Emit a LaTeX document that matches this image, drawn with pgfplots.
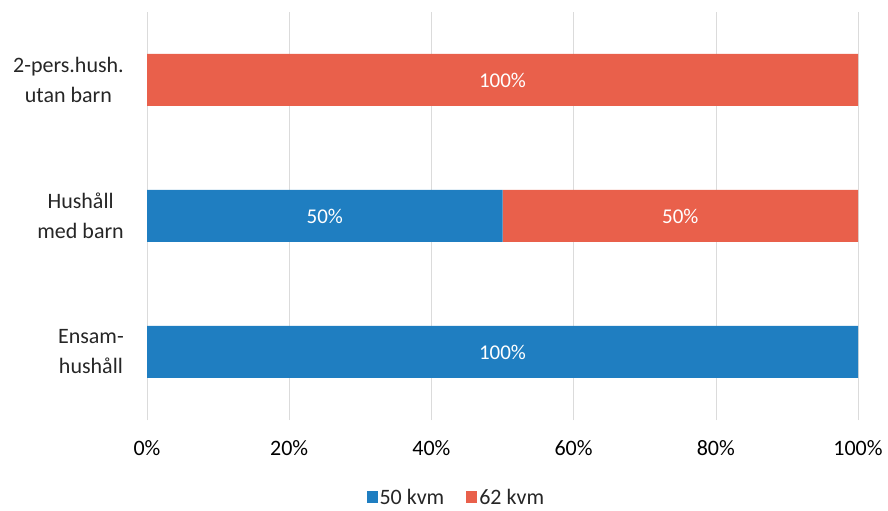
\documentclass[border=0pt]{standalone}
\usepackage{pgfplots}
\pgfplotsset{compat=1.18}
\usepackage{fontspec}
\setmainfont{Carlito}
\definecolor{cblue}{HTML}{1F7EC1}
\definecolor{cred}{HTML}{E9604B}
\definecolor{lbl}{HTML}{262626}
\begin{document}
\begin{tikzpicture}
\useasboundingbox (0,0) rectangle (888bp,511bp);
\begin{axis}[
  at={(147bp,91bp)}, anchor=south west,
  scale only axis, width=711bp, height=408bp,
  xbar stacked, bar width=52bp,
  xmin=0, xmax=100, ymin=-0.5, ymax=2.5,
  axis line style={draw=none},
  major tick length=0pt,
  xtick={0,20,40,60,80,100},
  xticklabels={0\%,20\%,40\%,60\%,80\%,100\%},
  ytick={0,1,2},
  yticklabels={Ensam-\\hushåll, Hushåll\\med barn, 2-pers.hush.\\utan barn},
  yticklabel style={align=center, inner sep=0pt, xshift=-23bp, text=lbl,
    font=\fontsize{22bp}{30bp}\selectfont},
  xticklabel style={inner sep=0pt, yshift=-20bp, text=black,
    font=\fontsize{22bp}{26bp}\selectfont},
  xmajorgrids, grid style={color=black!14, line width=0.6pt},
  legend style={at={(0.435,-0.189)}, anchor=center, draw=none, fill=none,
    legend columns=2, font=\fontsize{22bp}{26bp}\selectfont, text=lbl,
    /tikz/every even column/.append style={column sep=20bp}},
  legend image code/.code={\path[#1,draw=none] (0bp,-6bp) rectangle (11bp,6bp);},
  legend cell align=left,
]
\addplot[fill=cblue, draw=none] coordinates {(100,0) (50,1) (0,2)};
\addplot[fill=cred, draw=none] coordinates {(0,0) (50,1) (100,2)};
\legend{50 kvm, 62 kvm}
\coordinate (l0) at (axis cs:50,0);
\coordinate (l1a) at (axis cs:25,1);
\coordinate (l1b) at (axis cs:75,1);
\coordinate (l2) at (axis cs:50,2);
\end{axis}
\tikzset{inlbl/.style={text=white, font=\fontsize{21bp}{24bp}\selectfont}}
\node[inlbl] at (l0) {100\%};
\node[inlbl] at (l1a) {50\%};
\node[inlbl] at (l1b) {50\%};
\node[inlbl] at (l2) {100\%};
\end{tikzpicture}
\end{document}
